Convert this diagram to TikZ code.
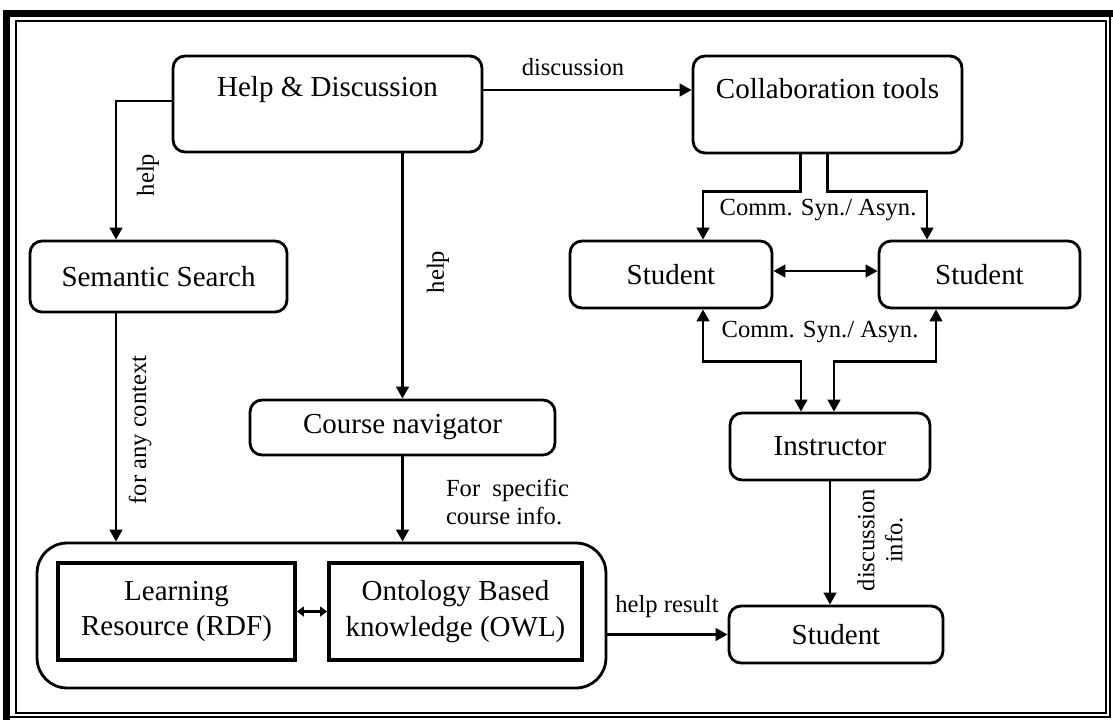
\documentclass[tikz,border=0pt]{standalone}
\usepackage{fontspec}
\setmainfont{Liberation Serif}
\usetikzlibrary{arrows.meta}

\begin{document}
\begin{tikzpicture}[x=0.02cm,y=-0.02cm,line width=1.6pt,
  rbox/.style={draw,rounded corners=0.24cm,font=\fontsize{16.5}{19}\selectfont,inner sep=0pt},
  sbox/.style={draw,line width=2.2pt,align=center,font=\fontsize{16.5}{20}\selectfont,inner sep=0pt},
  txt/.style={font=\fontsize{16.5}{19}\selectfont},
  lbl/.style={font=\fontsize{14}{16}\selectfont,align=center,inner sep=1pt},
  arr/.style={-{Triangle[length=0.24cm,width=0.25cm]}},
  arrs/.style={{Triangle[length=0.24cm,width=0.25cm]}-{Triangle[length=0.24cm,width=0.25cm]}}]
\useasboundingbox (0,0) rectangle (1113,720);
\draw[line width=0.14cm] (6.5,720) -- (6.5,13.5) -- (1113,13.5);
\draw[line width=0.6pt] (16,21) rectangle (1106,713);
\draw[line width=0.6pt] (1110,13) -- (1110,717) -- (6,717);

\node[rbox,minimum width=6.18cm,minimum height=1.92cm] (hd) at (327.5,104) {};
\node[txt] (hdt) at (327.5,90) {Help \& Discussion};
\node[rbox,minimum width=5.38cm,minimum height=1.94cm] (ct) at (827.5,104.5) {};
\node[txt] (ctt) at (827.5,89) {Collaboration tools};
\node[rbox,minimum width=5.14cm,minimum height=1.42cm] (ss) at (158.5,276.5) {Semantic Search};
\node[rbox,minimum width=4.04cm,minimum height=1.34cm] (sl) at (671,274.5) {Student};
\node[rbox,minimum width=4.02cm,minimum height=1.34cm] (sr) at (979.5,274.5) {Student};
\node[rbox,minimum width=6.1cm,minimum height=1.1cm] (cn) at (402.5,427.5) {Course navigator};
\node[rbox,minimum width=4cm,minimum height=1.34cm] (in) at (830,446.5) {Instructor};
\node[draw,rounded corners=0.6cm,minimum width=11.38cm,minimum height=2.9cm] (bx) at (321.5,615.5) {};
\node[sbox,minimum width=4.74cm,minimum height=1.94cm] (lr) at (176.5,611.5) {Learning\\Resource (RDF)};
\node[sbox,minimum width=5.06cm,minimum height=1.94cm] (ob) at (455.5,611.5) {Ontology Based\\knowledge (OWL)};
\node[rbox,minimum width=4.28cm,minimum height=1.14cm] (sb) at (836,634.5) {Student};

\node[lbl] (ldisc) at (573,67) {discussion};
\node[lbl,rotate=90] (lhelpa) at (148,175) {help};
\node[lbl,rotate=90] (lhelpb) at (438,272) {help};
\node[lbl,rotate=90] (lctx) at (140,430) {for any context};
\node[lbl,align=left] (lspec) at (507.5,502) {For\ \ specific\\course info.};
\node[lbl] (lcomma) at (818,210) {Comm. Syn./ Asyn.};
\node[lbl] (lcommb) at (820,332) {Comm. Syn./ Asyn.};
\node[lbl] (lres) at (667,607) {help result};
\node[lbl,rotate=90] (linfo) at (880,540) {discussion\\info.};

\draw[arr] (hdt -| hd.east) -- (hdt -| ct.west);
\draw[arr] ([yshift=0.06cm]hd.west) -| ([xshift=-0.85cm]ss.north);
\draw[arr] (hd.south -| cn.north) -- (cn.north);
\draw[arr] ([xshift=-0.85cm]ss.south) -- ([xshift=-0.85cm]ss.south |- bx.north);
\draw[arr] (cn.south) -- (cn.south |- bx.north);
\draw[arr] ([xshift=-0.54cm]ct.south) -- ++(0,37) -| ([xshift=0.64cm]sl.north);
\draw[arr] (ct.south) -- ++(0,37) -| ([xshift=-1.05cm]sr.north);
\draw[arrs] ([yshift=0.07cm]sl.east) -- ([yshift=0.07cm]sr.west);
\draw[arrs] ([xshift=0.64cm]sl.south) -- ++(0,52) -| ([xshift=-0.58cm]in.north);
\draw[arrs] ([xshift=-0.87cm]sr.south) -- ++(0,52) -| ([xshift=0.08cm]in.north);
\draw[arr] (in.south) -- (in.south |- sb.north);
\draw[arr] (bx.east |- sb) -- (sb.west);
\draw[{Triangle[length=0.14cm,width=0.2cm]}-{Triangle[length=0.14cm,width=0.2cm]}] (lr) -- (ob);
\end{tikzpicture}
\end{document}
